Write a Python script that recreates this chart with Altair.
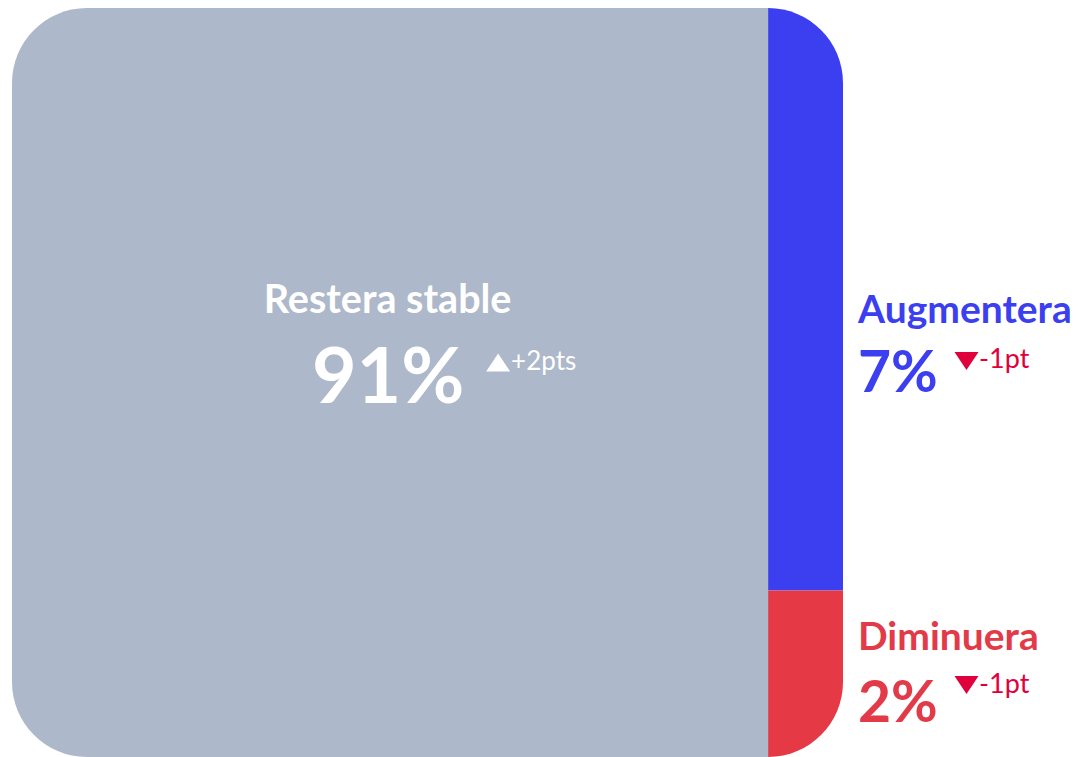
import altair as alt
import pandas as pd

# ---- data ----
categories = ["Restera stable", "Augmentera", "Diminuera"]
values = [91, 7, 2]
deltas = ["+2pts", "-1pt", "-1pt"]
directions = ["up", "down", "down"]

# ---- styles ----
fill_colors = ["#adb8ca", "#3c3ff0", "#e63946"]
label_colors = ["#ffffff", "#3c3ff0", "#e23a48"]
delta_colors = ["#ffffff", "#e0003c", "#e0003c"]
FONT = "Lato"
RADIUS = 75
TRI_UP = "M-1,0.75L1,0.75L0,-0.75Z"
TRI_DOWN = "M-1,-0.75L1,-0.75L0,0.75Z"

# ---- slice-and-dice treemap layout (in percent of the box) ----
total = sum(values)
x_split = values[0] / total * 100
y_split = values[1] / (values[1] + values[2]) * 100
boxes = [
    (0, x_split, 0, 100),
    (x_split, 100, 0, y_split),
    (x_split, 100, y_split, 100),
]
df = pd.DataFrame({
    "cat": categories,
    "pct": [f"{v}%" for v in values],
    "delta": deltas,
    "dir": directions,
    "x0": [b[0] for b in boxes],
    "x1": [b[1] for b in boxes],
    "y0": [b[2] for b in boxes],
    "y1": [b[3] for b in boxes],
})
df["cx"] = (df["x0"] + df["x1"]) / 2
df["cy"] = (df["y0"] + df["y1"]) / 2

W, H = 1064, 749
# box spans page x 12..843 -> plot x 4..835
x_scale = alt.Scale(domain=[-4 * 100 / 831, -4 * 100 / 831 + W * 100 / 831], nice=False, zero=False)
y_scale = alt.Scale(domain=[0, 100], reverse=True, nice=False, zero=False)

base = alt.Chart(df)


def rect(cat, color, x_off=0, **rad):
    return (
        base.transform_filter(alt.datum.cat == cat)
        .mark_rect(color=color, xOffset=x_off, **rad)
        .encode(
            x=alt.X("x0:Q", scale=x_scale, axis=None),
            x2="x1:Q",
            y=alt.Y("y0:Q", scale=y_scale, axis=None),
            y2="y1:Q",
        )
    )


# right-column pieces extend under the grey box so their big corner radius is not clamped
layers = [
    rect(categories[1], fill_colors[1], -80, cornerRadiusTopRight=RADIUS),
    rect(categories[2], fill_colors[2], -80, cornerRadiusBottomRight=RADIUS),
    rect(categories[0], fill_colors[0], 0, cornerRadiusTopLeft=RADIUS, cornerRadiusBottomLeft=RADIUS),
]


def txt(cat, field, xfield, color, size, weight, align, dx, dy):
    return (
        base.transform_filter(alt.datum.cat == cat)
        .mark_text(color=color, fontSize=size, fontWeight=weight, font=FONT,
                   align=align, baseline="alphabetic", dx=dx, dy=dy)
        .encode(
            x=alt.X(f"{xfield}:Q", scale=x_scale, axis=None),
            y=alt.Y("cy:Q", scale=y_scale, axis=None),
            text=f"{field}:N",
        )
    )


def tri(cat, xfield, color, shape, xo, yo):
    return (
        base.transform_filter(alt.datum.cat == cat)
        .mark_point(shape=shape, filled=True, size=576, color=color, opacity=1,
                    strokeWidth=0, xOffset=xo, yOffset=yo)
        .encode(
            x=alt.X(f"{xfield}:Q", scale=x_scale, axis=None),
            y=alt.Y("cy:Q", scale=y_scale, axis=None),
        )
    )


# Restera stable (centred in the grey box)
c = categories[0]
layers += [
    txt(c, "cat", "cx", label_colors[0], 39.5, "bold", "center", -2.5, -69.5),
    txt(c, "pct", "cx", label_colors[0], 77, "bold", "center", -2, 20.5),
    tri(c, "cx", delta_colors[0], TRI_UP, 108, -20),
    txt(c, "delta", "cx", delta_colors[0], 26, "normal", "left", 121, -12.5),
]
# Augmentera (right of the blue box)
c = categories[1]
layers += [
    txt(c, "cat", "x1", label_colors[1], 39, "bold", "left", 15, 23.7),
    txt(c, "pct", "x1", label_colors[1], 57, "bold", "left", 15, 92.7),
    tri(c, "x1", delta_colors[1], TRI_DOWN, 123.5, 61.7),
    txt(c, "delta", "x1", delta_colors[1], 27, "normal", "left", 136, 68.7),
]
# Diminuera (right of the red box)
c = categories[2]
layers += [
    txt(c, "cat", "x1", label_colors[2], 39, "bold", "left", 15, -23.8),
    txt(c, "pct", "x1", label_colors[2], 57, "bold", "left", 15, 48.2),
    tri(c, "x1", delta_colors[2], TRI_DOWN, 123.5, 11.2),
    txt(c, "delta", "x1", delta_colors[2], 27, "normal", "left", 136, 19.2),
]

chart = (
    alt.layer(*layers)
    .properties(width=W, height=H, autosize=alt.AutoSizeParams(type="none"), padding=0,
                background="white")
    .configure_view(stroke=None)
)

chart.save("out.html", embed_options={"renderer": "svg", "actions": False})
